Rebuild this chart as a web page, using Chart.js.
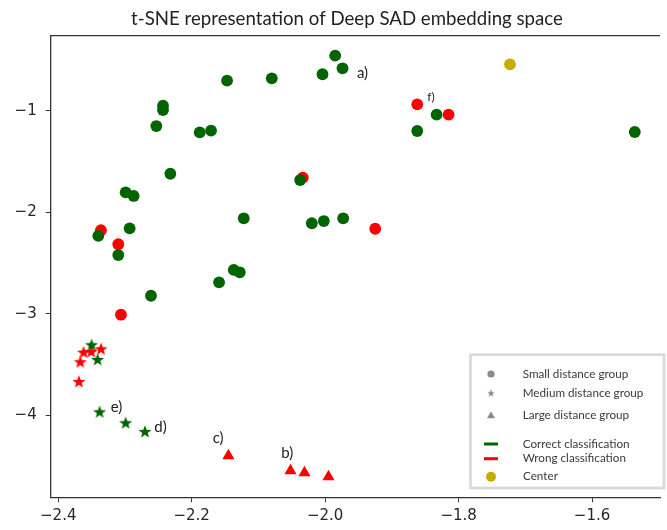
<!DOCTYPE html>
<html>
<head>
<meta charset="utf-8">
<script src="https://cdn.jsdelivr.net/npm/chart.js@4.4.0/dist/chart.umd.min.js"></script>
<style>
  html, body { margin: 0; padding: 0; background: #fff; }
  #wrap { width: 667px; height: 530px; }
</style>
</head>
<body>
<div id="wrap"><canvas id="tsne" width="667" height="530"></canvas></div>
<script>
// t-SNE points, [x, y]
var correctSmall = [
	[-1.985, -0.458], [-1.974, -0.582], [-2.004, -0.641], [-2.080, -0.681],
	[-2.147, -0.704], [-2.243, -0.951], [-2.243, -0.993], [-2.253, -1.151],
	[-2.188, -1.213], [-2.171, -1.197], [-2.232, -1.621], [-2.0375, -1.683],
	[-2.299, -1.804], [-2.287, -1.840], [-2.122, -2.060], [-2.020, -2.109],
	[-2.002, -2.087], [-1.973, -2.060], [-2.340, -2.234], [-2.293, -2.159],
	[-2.310, -2.422], [-2.137, -2.569], [-2.128, -2.592], [-2.159, -2.691],
	[-2.261, -2.823], [-1.833, -1.039], [-1.862, -1.200], [-1.536, -1.210]
];
var wrongSmall = [
	[-2.0335, -1.660], [-2.336, -2.178], [-2.310, -2.316], [-2.306, -3.010],
	[-1.862, -0.937], [-1.815, -1.039], [-1.925, -2.163]
];
var correctMedium = [
	[-2.350, -3.311], [-2.341, -3.456], [-2.338, -3.972], [-2.299, -4.080],
	[-2.270, -4.166]
];
var wrongMedium = [
	[-2.336, -3.351], [-2.3505, -3.377], [-2.362, -3.384], [-2.367, -3.479],
	[-2.369, -3.673]
];
var wrongLarge = [
	[-2.145, -4.399], [-2.052, -4.547], [-2.031, -4.567], [-1.995, -4.606]
];
var center = [[-1.723, -0.543]];

var notes = [
	{ text: 'a)', x: -1.944, y: -0.632, size: 15 },
	{ text: 'f)', x: -1.8415, y: -0.862, size: 12 },
	{ text: 'e)', x: -2.3126, y: -3.922, size: 15 },
	{ text: 'd)', x: -2.2468, y: -4.113, size: 15 },
	{ text: 'c)', x: -2.1604, y: -4.222, size: 15 },
	{ text: 'b)', x: -2.0567, y: -4.375, size: 15 }
];

var xTicks = [-2.4, -2.2, -2.0, -1.8, -1.6];
var yTicks = [-1, -2, -3, -4];

var titleText = 't-SNE representation of Deep SAD embedding space';
var legendLabels = ['Small distance group', 'Medium distance group', 'Large distance group',
	'Correct classification', 'Wrong classification', 'Center'];

var GREEN = '#006400';
var RED = '#ff0000';
var GOLD = '#c4ad00';
var GREY = '#8a8a8a';

function makeStar(r, color) {
	var s = Math.ceil(r * 2 + 2);
	var c = document.createElement('canvas');
	c.width = s;
	c.height = s;
	var g = c.getContext('2d');
	g.fillStyle = color;
	g.beginPath();
	for (var i = 0; i < 10; i++) {
		var rr = i % 2 ? r * 0.42 : r;
		var a = -Math.PI / 2 + i * Math.PI / 5;
		g.lineTo(s / 2 + rr * Math.cos(a), s / 2 + rr * Math.sin(a));
	}
	g.closePath();
	g.fill();
	return c;
}

function pts(list) {
	return list.map(function(p) { return { x: p[0], y: p[1] }; });
}

function minusFmt(v, digits) {
	return v.toFixed(digits).replace('-', '\u2212');
}

// font size so that text gets a given width
function fitSize(ctx, text, family, width) {
	ctx.font = '20px ' + family;
	return 20 * width / ctx.measureText(text).width;
}

var extras = {
	id: 'extras',
	afterDatasetsDraw: function(chart) {
		var ctx = chart.ctx;
		var a = chart.chartArea;
		var sx = chart.scales.x, sy = chart.scales.y;
		ctx.save();
		// top spine
		ctx.strokeStyle = '#333';
		ctx.lineWidth = 1.3;
		ctx.beginPath();
		ctx.moveTo(a.left, a.top);
		ctx.lineTo(a.right, a.top);
		ctx.stroke();

		// point annotations
		ctx.fillStyle = '#222';
		ctx.textAlign = 'center';
		ctx.textBaseline = 'middle';
		notes.forEach(function(n) {
			ctx.font = n.size + 'px Lato';
			ctx.fillText(n.text, sx.getPixelForValue(n.x), sy.getPixelForValue(n.y));
		});

		// legend box
		ctx.fillStyle = '#fff';
		ctx.fillRect(470.5, 354.7, 193.5, 133.3);
		ctx.strokeStyle = '#d9d9d9';
		ctx.lineWidth = 2.7;
		ctx.strokeRect(470.5, 354.7, 193.5, 133.3);

		var rows = [374, 393.3, 415.3, 444, 458.7, 476.7];
		var mx = 491;
		ctx.fillStyle = GREY;
		ctx.beginPath();
		ctx.arc(mx, rows[0], 3.6, 0, Math.PI * 2);
		ctx.fill();
		var st = makeStar(4, GREY);
		ctx.drawImage(st, mx - st.width / 2, rows[1] - st.height / 2);
		ctx.beginPath();
		ctx.moveTo(mx, rows[2] - 4);
		ctx.lineTo(mx - 4, rows[2] + 3);
		ctx.lineTo(mx + 4, rows[2] + 3);
		ctx.closePath();
		ctx.fill();
		ctx.fillStyle = GREEN;
		ctx.fillRect(mx - 7, rows[3] - 1.5, 14, 3);
		ctx.fillStyle = RED;
		ctx.fillRect(mx - 7, rows[4] - 1.5, 14, 3);
		ctx.fillStyle = GOLD;
		ctx.beginPath();
		ctx.arc(mx, rows[5], 5, 0, Math.PI * 2);
		ctx.fill();

		var ls = fitSize(ctx, legendLabels[1], 'Lato', 120.7);
		ctx.fillStyle = '#3a3a3a';
		ctx.font = ls.toFixed(2) + 'px Lato';
		ctx.textAlign = 'left';
		legendLabels.forEach(function(t, i) {
			ctx.fillText(t, i === 5 ? 523 : 522.7, rows[i]);
		});

		// title
		var ts = fitSize(ctx, titleText, 'Lato', 432);
		ctx.fillStyle = '#222';
		ctx.font = ts.toFixed(2) + 'px Lato';
		ctx.textAlign = 'center';
		ctx.fillText(titleText, 347, 19);
		ctx.restore();
	}
};

var starGreen = makeStar(6.8, GREEN);
var starRed = makeStar(6.8, RED);

new Chart(document.getElementById('tsne'), {
	type: 'scatter',
	data: {
		datasets: [
			{ label: 'center', data: pts(center), backgroundColor: GOLD, pointRadius: 5.9 },
			{ label: 'correct small', data: pts(correctSmall), backgroundColor: GREEN, pointRadius: 5.9 },
			{ label: 'correct medium', data: pts(correctMedium), pointStyle: starGreen, pointRadius: 6 },
			{ label: 'wrong small', data: pts(wrongSmall), backgroundColor: RED, pointRadius: 5.9 },
			{ label: 'wrong medium', data: pts(wrongMedium), pointStyle: starRed, pointRadius: 6 },
			{ label: 'wrong large', data: pts(wrongLarge), backgroundColor: RED, pointStyle: 'triangle', pointRadius: 7 }
		]
	},
	options: {
		responsive: false,
		animation: false,
		layout: { padding: { top: 35.7, left: 0, right: 0, bottom: 0 } },
		elements: { point: { borderWidth: 0, hoverRadius: 6 } },
		plugins: {
			legend: { display: false },
			title: { display: false },
			tooltip: { enabled: false }
		},
		scales: {
			x: {
				type: 'linear',
				min: -2.4113,
				max: -1.4982,
				afterFit: function(s) { s.height = 32.7; },
				afterBuildTicks: function(s) { s.ticks = xTicks.map(function(v) { return { value: v }; }); },
				grid: { drawOnChartArea: false, drawTicks: true, tickLength: 5, tickColor: '#333', lineWidth: 1 },
				border: { display: true, color: '#333', width: 1.3 },
				ticks: {
					padding: 5,
					color: '#262626',
					font: { family: 'DejaVu Sans', size: 15 },
					maxRotation: 0,
					autoSkip: false,
					callback: function(v) { return minusFmt(v, 1); }
				}
			},
			y: {
				type: 'linear',
				min: -4.809,
				max: -0.261,
				afterFit: function(s) { s.width = 50.7; },
				afterBuildTicks: function(s) { s.ticks = yTicks.map(function(v) { return { value: v }; }); },
				grid: { drawOnChartArea: false, drawTicks: true, tickLength: 5, tickColor: '#333', lineWidth: 1 },
				border: { display: true, color: '#333', width: 1.3 },
				ticks: {
					padding: 9,
					color: '#262626',
					font: { family: 'DejaVu Sans', size: 15 },
					autoSkip: false,
					callback: function(v) { return minusFmt(v, 0); }
				}
			}
		}
	},
	plugins: [extras]
});
</script>
</body>
</html>
